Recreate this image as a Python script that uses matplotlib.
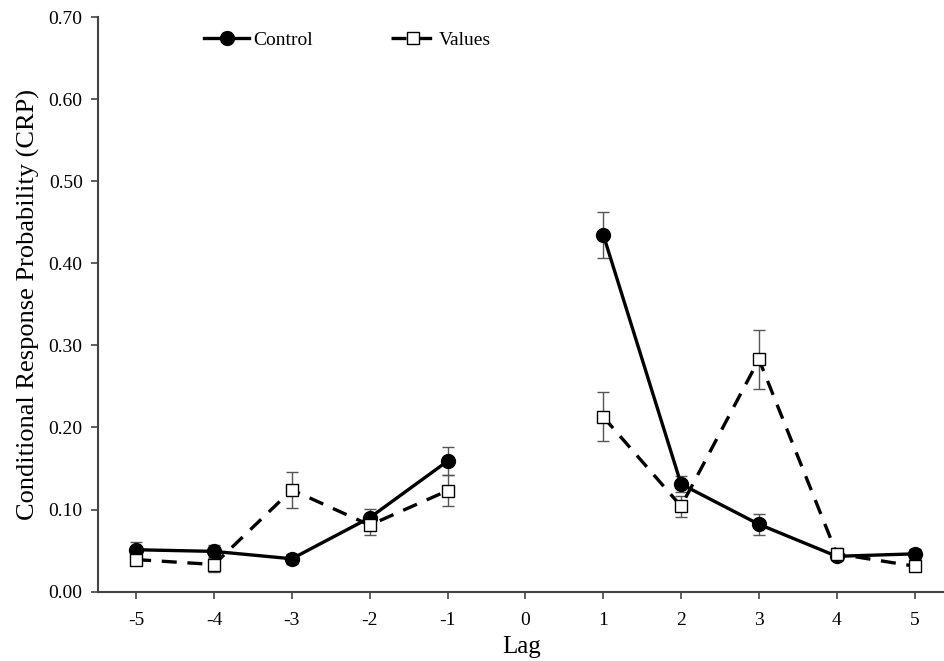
import numpy as np
from matplotlib import pyplot as plt

plt.rcParams['font.family'] = ['Liberation Serif', 'DejaVu Serif']

lags = [-5, -4, -3, -2, -1, 0, 1, 2, 3, 4, 5]

# lag 0 has no value, so the lines break there
control = [0.051, 0.049, 0.040, 0.090, 0.159, np.nan, 0.435, 0.131, 0.082, 0.043, 0.046]
control_err = [0.009, 0.008, 0.006, 0.011, 0.017, np.nan, 0.028, 0.010, 0.013, 0.005, 0.006]

values = [0.039, 0.033, 0.124, 0.081, 0.123, np.nan, 0.213, 0.104, 0.283, 0.046, 0.031]
values_err = [0.007, 0.009, 0.022, 0.012, 0.019, np.nan, 0.030, 0.013, 0.036, 0.007, 0.005]

yticks = [0.0, 0.1, 0.2, 0.3, 0.4, 0.5, 0.6, 0.7]

fig = plt.figure(figsize=(9.45, 6.61), dpi=100)
ax = fig.add_axes([0.1037, 0.105, 0.8963, 0.869])

spine_col = '#444444'
err_col = '#555555'

ax.errorbar(lags, control, yerr=control_err, fmt='none', ecolor=err_col,
            elinewidth=1.0, capsize=4, capthick=1.0, zorder=2)
ax.errorbar(lags, values, yerr=values_err, fmt='none', ecolor=err_col,
            elinewidth=1.0, capsize=4, capthick=1.0, zorder=2)

ax.plot(lags, control, '-', color='black', lw=2.4, marker='o', ms=10,
        mfc='black', mec='black', label='Control', zorder=3)
ax.plot(lags, values, color='black', lw=2.4, ls=(0, (4.5, 3.2)), marker='s', ms=8,
        mfc='white', mec='black', mew=1.0, label='Values', zorder=4)

ax.set_xlim(-5.49, 5.39)
ax.set_ylim(0, 0.7)
ax.set_xticks(lags)
ax.set_xticklabels([str(l) for l in lags])
ax.set_yticks(yticks)
ax.set_yticklabels(['%.2f' % t for t in yticks])

for s in ['top', 'right']:
    ax.spines[s].set_visible(False)
for s in ['left', 'bottom']:
    ax.spines[s].set_color(spine_col)
    ax.spines[s].set_linewidth(1.5)

ax.tick_params(axis='both', direction='out', colors=spine_col, labelcolor='black',
               labelsize=14, length=5, width=1.2)
ax.tick_params(axis='x', pad=10)
ax.tick_params(axis='y', pad=6)

ax.set_xlabel('Lag', fontsize=18, labelpad=5)
ax.set_ylabel('Conditional Response Probability (CRP)', fontsize=19, labelpad=6)

leg = ax.legend(loc='center', bbox_to_anchor=(0.295, 0.96), ncol=2, frameon=False,
                fontsize=14, handlelength=2.3, columnspacing=4.0, handletextpad=0.2)

fig.savefig('out.png', dpi=100)
